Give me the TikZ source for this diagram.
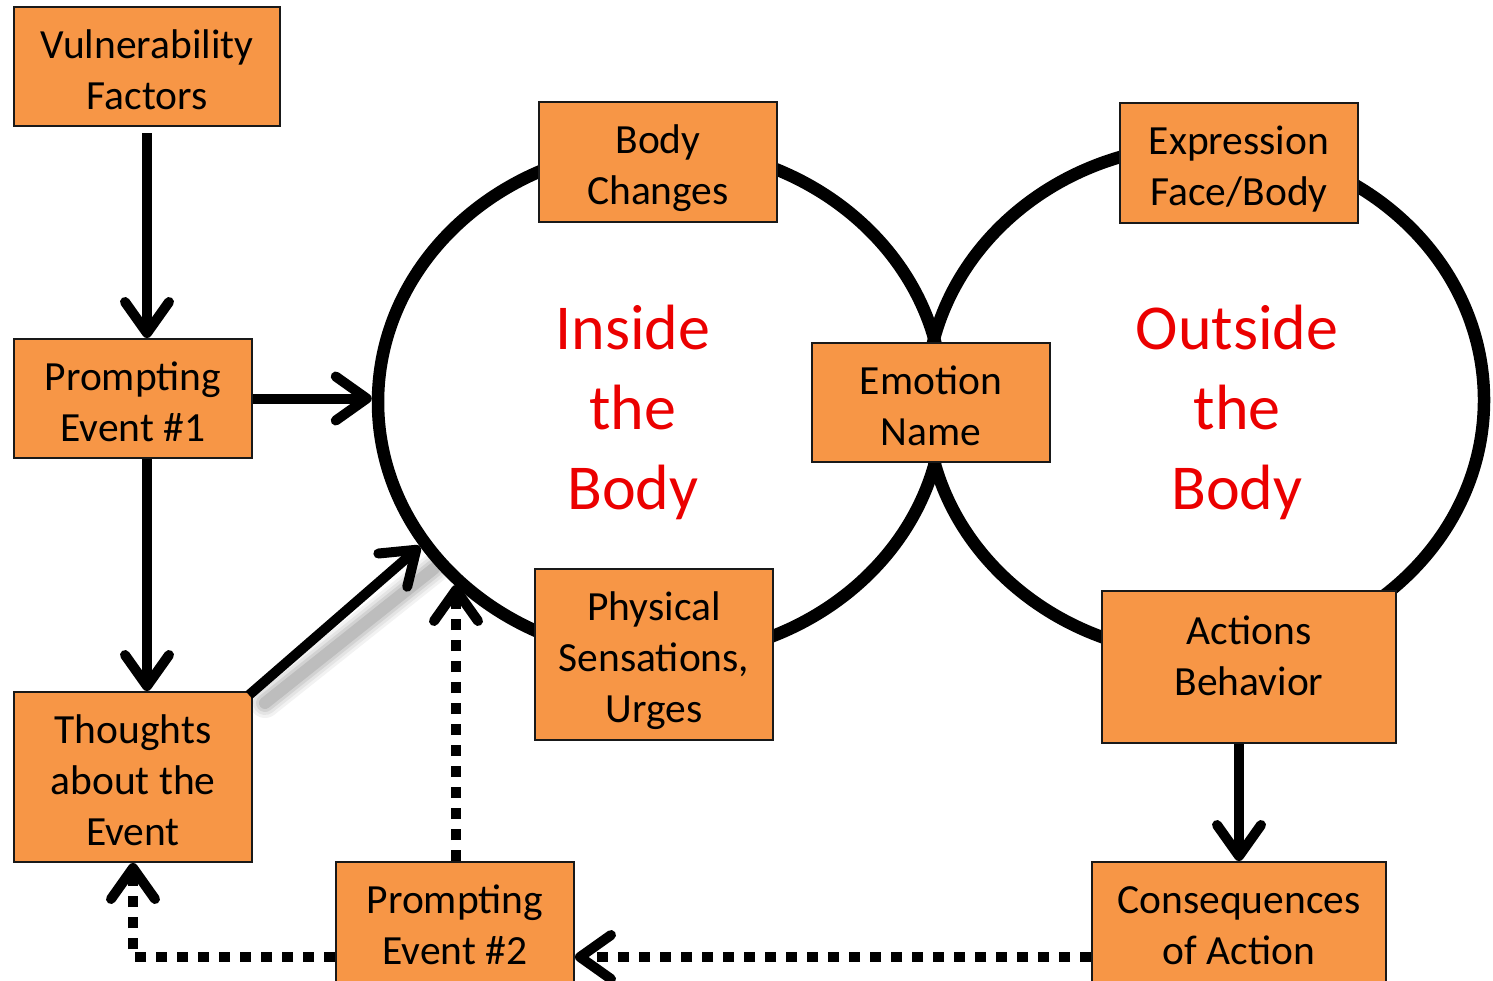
\documentclass[tikz,border=0pt]{standalone}
\usepackage{fontspec}
\setmainfont{Carlito}
\usetikzlibrary{arrows.meta,shapes.geometric,calc}

\definecolor{boxorange}{HTML}{F79646}
\definecolor{labelred}{RGB}{235,0,0}
\pgfdeclarelayer{background}
\pgfsetlayers{background,main}

% struts that fix the vertical placement of the multi-line labels
\newcommand\bxT{\rule{0pt}{43pt}}
\newcommand\bxB{\rule[-9pt]{0pt}{9pt}}
\newcommand\bgT{\rule{0pt}{64pt}}
\newcommand\bgB{\rule[-18pt]{0pt}{18pt}}

\begin{document}
\begin{tikzpicture}[x=1pt,y=-1pt,
  boxtext/.style={align=center, inner sep=0pt,
    font=\fontsize{41.5}{51}\selectfont},
  box/.style={boxtext, draw=black!90, line width=2pt, fill=boxorange},
  redtxt/.style={align=center, inner sep=0pt, text=labelred,
    font=\fontsize{64}{80}\selectfont},
  zone/.style={ellipse, draw=black, line width=12.5pt, inner sep=0pt},
  arr/.style={line width=10pt, -{Straight Barb[length=31pt,width=44pt,round]}},
  dots/.style={arr, dash pattern=on 11pt off 10pt}
]
\useasboundingbox (0,0) rectangle (1493,980);
\clip (0,0) rectangle (1493,980);

% the two overlapping zones
\node[zone, minimum width=565pt, minimum height=510pt] (inner) at (660.5,402) {};
\node[zone, minimum width=558pt, minimum height=510pt] (outer) at (1205,400) {};

% red zone titles
\node[redtxt] (insidelbl) at (633,406) {\bgT Inside\\the\\Body\bgB};
\node[redtxt] (outsidelbl) at (1237,406) {\bgT Outside\\the\\Body\bgB};

% boxes
\node[box, minimum width=266pt, minimum height=119pt] (vf) at (147,66.5) {\bxT Vulnerability\\Factors\bxB};
\node[box, minimum width=238pt, minimum height=119pt] (pe1) at (133,398.5) {\bxT Prompting\\Event \#1\bxB};
\node[box, minimum width=238pt, minimum height=170pt] (th) at (133,777) {\bxT Thoughts\\about the\\Event\bxB};
\node[box, minimum width=238pt, minimum height=120pt] (pe2) at (455,922) {\bxT Prompting\\Event \#2\bxB};
\node[box, minimum width=294pt, minimum height=120pt] (con) at (1239,922) {\bxT Consequences\\of Action\bxB};
\node[box, minimum width=238pt, minimum height=120pt] (bc) at (658,161.5) {\bxT Body\\Changes\bxB};
\node[box, minimum width=238pt, minimum height=171pt] (ps) at (654,654.5) {\bxT Physical\\Sensations,\\Urges\bxB};
\node[box, minimum width=238pt, minimum height=119pt] (en) at (931,402.5) {\bxT Emotion\\Name\bxB};
\node[box, minimum width=238pt, minimum height=120pt] (ex) at (1239,163) {\bxT Expression\\Face/Body\bxB};
\node[box, minimum width=294pt, minimum height=152pt] (act) at (1249,667) {};
\node[boxtext] (actlbl) at (1249,653) {\bxT Actions\\Behavior\bxB};

% soft shadow under the thoughts arrow
\begin{pgfonlayer}{background}
  \foreach \w/\o in {30/0.05,24/0.06,18/0.08,12/0.10}
    \draw[line width=\w pt, black, opacity=\o, line cap=round]
      ($(th.north east)+(12,12)$) -- ($(inner.211)+(14,22)$);
\end{pgfonlayer}

% solid connectors
\draw[arr, shorten <=6pt] (vf.south) -- (vf.south |- pe1.north);
\draw[arr] (pe1.east) -- (pe1.east -| inner.west);
\draw[arr] (pe1.south -| vf.south) -- (th.north -| vf.south);
\draw[arr] ($(th.north east)+(-4,4)$) -- (inner.211);
\draw[arr] (act.south -| con.north) -- (con.north);

% dotted feedback connectors
\coordinate (zoneentry) at (456,585);
\draw[dots] (pe2.north -| zoneentry) -- (zoneentry);
\draw[dots] ($(con.west)+(0,35)$) -- ($(pe2.east)+(0,35)$);
\draw[dots] ($(pe2.west)+(0,35)$) -| (th.south);
\end{tikzpicture}
\end{document}
